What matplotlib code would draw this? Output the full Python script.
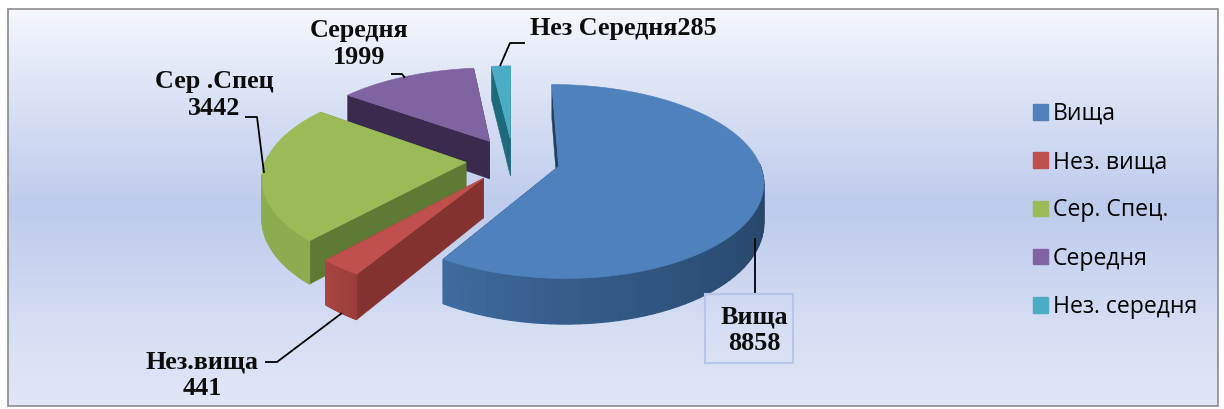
import matplotlib
matplotlib.use('Agg')
import matplotlib.pyplot as plt
import numpy as np
from matplotlib.colors import LinearSegmentedColormap, to_rgb
from matplotlib.patches import Patch, Polygon, Rectangle

# chart data
legend_names = ['Вища', 'Нез. вища', 'Сер. Спец.', 'Середня', 'Нез. середня']
label_names = ['Вища', 'Нез.вища', 'Сер .Спец', 'Середня', 'Нез Середня']
values = [8858, 441, 3442, 1999, 285]

top_colors = ['#4f81bd', '#c0504d', '#9bbb59', '#8064a2', '#4bacc6']
wall_colors = ['#24405f', '#83322f', '#5f7a35', '#3a2a4e', '#1f6a7a']
rim_left = ['#3f6ca0', '#a84542', '#8fab50', '#5a4674', '#2f7f92']
rim_right = ['#1f3a58', '#9a3e3b', '#8fab50', '#5a4674', '#2f7f92']

# drawing order, back slices first
order = [4, 3, 2, 1, 0]

# pie geometry in pixels
cx, cy = 513, 160
radius = 200
ry = 95
persp = 0.16
explode = 0.235


def project(u, v, eu, ev):
    # u, v on the unit disc, eu, ev the explode offset of the slice
    t = ev + v
    x = cx + radius * (eu + u) * (1 + 0.15 * t)
    y = cy + ry * t * (1 + persp * t)
    return np.array(x), np.array(y)


def depth(y):
    return 38 + (y - 150) * 0.06


def wall(ax, xs, ys, color, z, lw=0.3):
    xb = list(xs) + list(xs)[::-1]
    yb = list(ys) + [y + depth(y) for y in list(ys)[::-1]]
    ax.add_patch(Polygon(np.column_stack([xb, yb]), closed=True, fc=color, ec=color, lw=lw, zorder=z))


fig = plt.figure(figsize=(12.24, 4.09), dpi=100)
ax = fig.add_axes([0, 0, 1, 1])
ax.axis('off')

# background panel
bg = LinearSegmentedColormap.from_list('bg', [(0, '#f5f7fd'), (0.2, '#dde4f6'), (0.5, '#bdcbec'), (0.8, '#d6def4'), (1, '#e2e7f7')])
ax.imshow(np.linspace(0, 1, 256).reshape(-1, 1), cmap=bg, extent=[8, 1218, 406, 9], aspect='auto', zorder=0)
ax.set_xlim(0, 1224)
ax.set_ylim(409, 0)
ax.add_patch(Rectangle((8, 9), 1210, 397, fc='none', ec='#8c8c8c', lw=1.2, zorder=1))

# slices
fractions = np.array(values) / np.sum(values)
ends = np.cumsum(fractions) * 2 * np.pi
starts = ends - fractions * 2 * np.pi

z = 2
for i in order:
    a = np.linspace(starts[i], ends[i], 90)
    mid = (starts[i] + ends[i]) / 2
    eu = explode * np.sin(mid)
    ev = -explode * np.cos(mid)
    u, v = np.sin(a), -np.cos(a)
    x, y = project(u, v, eu, ev)
    x0, y0 = project(0, 0, eu, ev)

    # flat walls along the two radial edges
    wall(ax, [x0, x[0]], [y0, y[0]], wall_colors[i], z)
    wall(ax, [x0, x[-1]], [y0, y[-1]], wall_colors[i], z)
    z += 1

    # outer rim, shaded in small pieces
    c1, c2 = np.array(to_rgb(rim_right[i])), np.array(to_rgb(rim_left[i]))
    for k in range(len(a) - 1):
        if v[k] < -0.05:
            continue
        mix = (a[k] - starts[i]) / (ends[i] - starts[i])
        if i == 0:
            mix = mix ** 2
        col = tuple(c1 * (1 - mix) + c2 * mix)
        wall(ax, x[k:k + 2], y[k:k + 2], col, z, lw=0.8)
    z += 1

    # top face
    pts = np.column_stack([np.r_[x0, x], np.r_[y0, y]])
    ax.add_patch(Polygon(pts, closed=True, fc=top_colors[i], ec=top_colors[i], lw=0.4, zorder=z))
    z += 1

# leader lines
leaders = [
    ([755, 755], [238, 293]),
    ([265, 277, 342], [362, 362, 313]),
    ([245, 257, 264], [117, 117, 173]),
    ([391, 402, 405], [74, 74, 78]),
    ([525, 510, 500], [43, 43, 66]),
]
for lx, ly in leaders:
    ax.plot(lx, ly, color='black', lw=1.3, zorder=z, solid_capstyle='butt')
z += 1

# data labels
serif = dict(family='Liberation Serif', fontweight='bold', fontsize=18.8, color='#0d0d0d', ha='center', va='center', linespacing=1.2, zorder=z)
ax.text(754, 330, label_names[0] + '\n' + str(values[0]), **serif)
ax.text(202, 375, label_names[1] + '\n' + str(values[1]), **serif)
ax.text(214, 95, label_names[2] + '\n' + str(values[2]), **serif)
ax.text(359, 44, label_names[3] + '\n' + str(values[3]), **serif)
ax.text(623, 29, label_names[4] + str(values[4]), **serif)
ax.add_patch(Rectangle((705, 294), 88, 69, fc='none', ec='#b6c6ea', lw=1.5, zorder=z))

# legend
handles = [Patch(fc=c, ec=c) for c in top_colors]
ax.legend(handles, legend_names, loc='upper left', bbox_to_anchor=(1033 / 1224, 1 - 102 / 409), frameon=False,
          prop={'family': 'Open Sans', 'size': 16.6}, handlelength=0.66, handleheight=0.66, handletextpad=0.2,
          labelspacing=1.05, borderpad=0, borderaxespad=0)

fig.savefig('out.png', dpi=100)
